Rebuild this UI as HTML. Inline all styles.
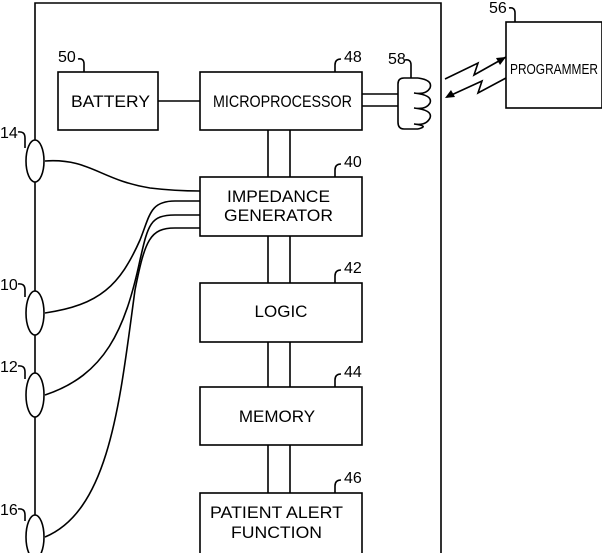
<!DOCTYPE html>
<html><head><meta charset="utf-8"><style>
html,body{margin:0;padding:0;background:#fff;}
svg{display:block;}
text{font-family:"Liberation Sans",sans-serif;fill:#000;}
</style></head><body>
<svg width="602" height="553" viewBox="0 0 602 553" xmlns="http://www.w3.org/2000/svg">
<g fill="none" stroke="#000" stroke-width="1.6">
<path d="M35 560 V3 H441 V560"/>
<rect x="58" y="72" width="100" height="58" fill="#fff"/>
<rect x="200" y="72" width="162" height="58" fill="#fff"/>
<rect x="200" y="177" width="162" height="59" fill="#fff"/>
<rect x="200" y="283" width="162" height="59" fill="#fff"/>
<rect x="200" y="387" width="162" height="58" fill="#fff"/>
<rect x="200" y="493" width="162" height="70" fill="#fff"/>
<rect x="506" y="22" width="96" height="86" fill="#fff"/>
<path d="M268 130V177M290 130V177M268 236V283M290 236V283M268 342V387M290 342V387M268 445V493M290 445V493"/>
<path d="M158 101H200"/>
<path d="M362 94H398M362 106H398"/>
<path d="M418 78 H404 Q398 78 398 84 V122 Q398 129 404 129 H418"/>
<path d="M418 78 Q433 80 430 88 Q426 95 414 93 M414 93 Q433 95 430 103 Q426 110 414 108 M414 108 Q433 110 430 118 Q426 126 414 124 M414 124 Q430 126 418 129"/>
<path d="M78 59 Q84 58 84 64 V72"/>
<path d="M335 72 V65 Q335 59 341 59"/>
<path d="M405 60 Q411 59 411 65 V78"/>
<path d="M335 177 V170 Q335 164 341 164"/>
<path d="M335 283 V276 Q335 270 341 270"/>
<path d="M335 387 V380 Q335 374 341 374"/>
<path d="M335 493 V486 Q335 480 341 480"/>
<path d="M509 8 Q515 7 515 13 V22"/>
<path d="M18 132 Q25 131 25 138 V148"/>
<path d="M18 284 Q25 283 25 290 V297"/>
<path d="M18 366 Q25 365 25 372 V379"/>
<path d="M18 509 Q25 508 25 515 V521"/>
<ellipse cx="35" cy="161" rx="9" ry="21" fill="#fff"/>
<ellipse cx="35" cy="313" rx="9" ry="22" fill="#fff"/>
<ellipse cx="35" cy="395" rx="9" ry="22" fill="#fff"/>
<ellipse cx="35" cy="537" rx="9" ry="22" fill="#fff"/>
<path d="M45 161 C90 158 100 180 150 188 C175 191 190 191 200 191"/>
<path d="M45 313 C100 305 120 285 140 240 C150 215 150 201 175 201 H200"/>
<path d="M45 395 C105 375 125 330 140 260 C148 225 150 215 175 215 H200"/>
<path d="M45 537 C110 510 120 400 135 290 C145 240 150 228 175 228 H200"/>
<path d="M445 79 L478 63 L474 75 L506 57"/>
<path d="M506 78 L478 93 L482 81 L447 97"/>
</g>
<path d="M506 57 L496 58 L500 65 Z" fill="#000"/>
<path d="M445 98 L455 97 L451 90 Z" fill="#000"/>
<g font-size="17">
<text x="71" y="107" textLength="79" lengthAdjust="spacingAndGlyphs">BATTERY</text>
<text x="213" y="107" textLength="139" lengthAdjust="spacingAndGlyphs">MICROPROCESSOR</text>
<text x="227" y="202" textLength="103" lengthAdjust="spacingAndGlyphs">IMPEDANCE</text>
<text x="224" y="221" textLength="109" lengthAdjust="spacingAndGlyphs">GENERATOR</text>
<text x="281" y="317" text-anchor="middle">LOGIC</text>
<text x="277" y="422" text-anchor="middle">MEMORY</text>
<text x="210" y="518" textLength="133" lengthAdjust="spacingAndGlyphs">PATIENT ALERT</text>
<text x="231" y="538" textLength="91" lengthAdjust="spacingAndGlyphs">FUNCTION</text>
<text x="510" y="74" font-size="15" textLength="88" lengthAdjust="spacingAndGlyphs">PROGRAMMER</text>
</g>
<g font-size="16">
<text x="58" y="62">50</text>
<text x="344" y="62">48</text>
<text x="388" y="64">58</text>
<text x="344" y="167">40</text>
<text x="344" y="273">42</text>
<text x="344" y="377">44</text>
<text x="344" y="483">46</text>
<text x="489" y="13">56</text>
<text x="0" y="138">14</text>
<text x="0" y="290">10</text>
<text x="0" y="372">12</text>
<text x="0" y="515">16</text>
</g>
</svg>
</body></html>
